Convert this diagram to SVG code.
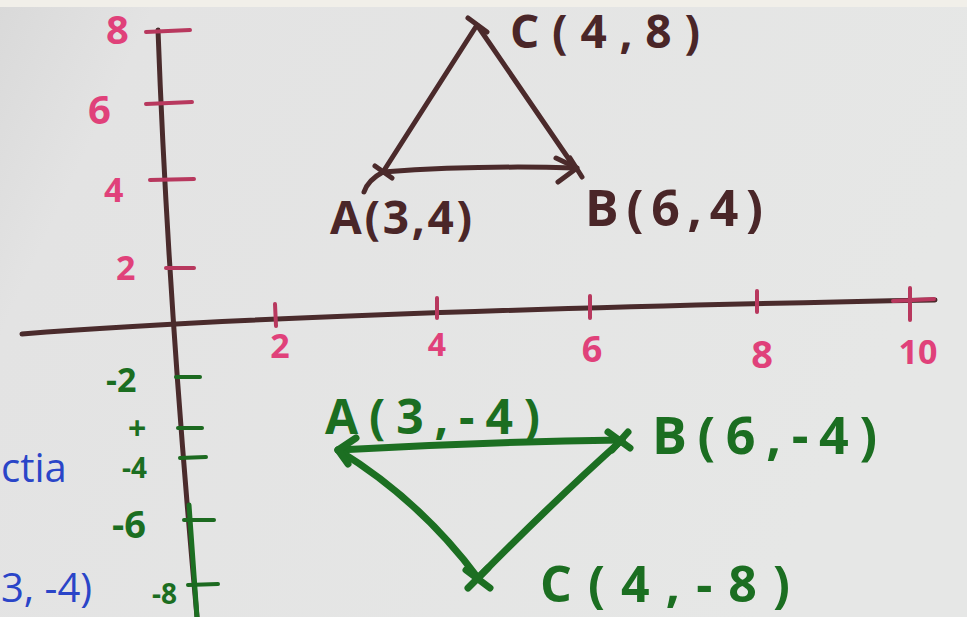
<svg xmlns="http://www.w3.org/2000/svg" width="967" height="617" viewBox="0 0 967 617">
<defs>
<linearGradient id="board" x1="0" y1="0" x2="1" y2="0.3">
<stop offset="0" stop-color="#d9d9d9"/>
<stop offset="0.15" stop-color="#e3e3e3"/>
<stop offset="1" stop-color="#e6e7e6"/>
</linearGradient>
<style>
.ax{fill:none;stroke:#4a2b2c;stroke-width:5;stroke-linecap:round}
.br{fill:none;stroke:#4b2a2b;stroke-width:5;stroke-linecap:round;stroke-linejoin:round}
.gr{fill:none;stroke:#1c6f22;stroke-width:7;stroke-linecap:round;stroke-linejoin:round}
.pk{fill:none;stroke:#b8385e;stroke-width:4;stroke-linecap:round}
.gt{fill:none;stroke:#1c6a20;stroke-width:4;stroke-linecap:round}
text{font-family:"Open Sans","Liberation Sans",sans-serif;font-weight:bold}
.tb{fill:#4a2628}
.tp{fill:#e0417a}
.tg{fill:#1b6e21}
.tu{fill:#2a45c8;font-weight:normal}
</style>
</defs>
<rect width="967" height="617" fill="url(#board)"/>
<rect width="967" height="7" fill="#f1efe9"/>

<g id="axes">
<path class="ax" d="M158,30 Q168,300 197,617"/>
<path class="gr" d="M189,505 L197,617" style="stroke-width:5"/>
<path class="ax" d="M22,334 Q300,312 935,300"/>
</g>

<g id="y-ticks-positive">
<path class="pk" d="M146,32 L190,30"/>
<path class="pk" d="M146,104 L192,102"/>
<path class="pk" d="M150,180 L194,179"/>
<path class="pk" d="M166,268 L194,268"/>
</g>

<g id="x-ticks">
<path class="pk" d="M275,304 L276,326"/>
<path class="pk" d="M437,298 L437,318"/>
<path class="pk" d="M590,296 L590,318"/>
<path class="pk" d="M757,291 L757,312"/>
<path class="pk" d="M910,288 L910,320 M893,301 L934,299"/>
</g>

<g id="y-ticks-negative">
<path class="gt" d="M176,377 L200,377"/>
<path class="gt" d="M178,428 L202,428"/>
<path class="gt" d="M180,458 L206,457"/>
<path class="gt" d="M184,520 L214,520"/>
<path class="gt" d="M188,585 L218,584"/>
</g>

<g id="y-labels-positive">
<text class="tp" x="106" y="44" font-size="40">8</text>
<text class="tp" x="88" y="124" font-size="40">6</text>
<text class="tp" x="104" y="202" font-size="34">4</text>
<text class="tp" x="116" y="280" font-size="34">2</text>
</g>

<g id="x-labels">
<text class="tp" x="280" y="358" font-size="34" text-anchor="middle">2</text>
<text class="tp" x="437" y="356" font-size="32" text-anchor="middle">4</text>
<text class="tp" x="592" y="362" font-size="36" text-anchor="middle">6</text>
<text class="tp" x="762" y="368" font-size="38" text-anchor="middle">8</text>
<text class="tp" x="918" y="364" font-size="34" text-anchor="middle">10</text>
</g>

<g id="y-labels-negative">
<text class="tg" x="106" y="392" font-size="34">-2</text>
<text class="tg" x="128" y="440" font-size="32">+</text>
<text class="tg" x="122" y="478" font-size="28">-4</text>
<text class="tg" x="112" y="538" font-size="38">-6</text>
<text class="tg" x="152" y="604" font-size="28">-8</text>
</g>

<g id="triangle-ABC">
<path class="br" d="M383,172 L477,25 L575,168"/>
<path class="br" d="M383,172 Q480,165 575,168"/>
<path class="br" d="M383,172 Q368,180 364,192"/>
<path class="br" d="M556,158 L577,168 L558,182"/>
<path class="br" d="M375,166 L392,178 M468,18 L487,32 M570,158 L582,177"/>
</g>

<g id="triangle-ABC-reflected">
<path class="gr" d="M338,450 Q480,442 622,440"/>
<path class="gr" d="M338,450 Q420,500 478,578"/>
<path class="gr" d="M478,578 Q555,500 622,440"/>
<path class="gr" d="M356,438 L338,450 L348,464"/>
<path class="gr" d="M608,432 L630,448 M612,450 L628,432 M466,570 L490,588 M468,588 L488,568"/>
</g>

<g id="labels-original">
<text class="tb" x="510" y="48" font-size="46" textLength="190" lengthAdjust="spacing">C(4,8)</text>
<text class="tb" x="330" y="234" font-size="46" textLength="142" lengthAdjust="spacing">A(3,4)</text>
<text class="tb" x="585" y="226" font-size="50" textLength="178" lengthAdjust="spacing">B(6,4)</text>
</g>

<g id="labels-reflected">
<text class="tg" x="325" y="434" font-size="48" textLength="215" lengthAdjust="spacing">A(3,-4)</text>
<text class="tg" x="652" y="454" font-size="52" textLength="225" lengthAdjust="spacing">B(6,-4)</text>
<text class="tg" x="540" y="602" font-size="50" textLength="250" lengthAdjust="spacing">C(4,-8)</text>
</g>

<g id="notes">
<text class="tu" x="1" y="482" font-size="40">ctia</text>
<text class="tu" x="1" y="602" font-size="40">3, -4)</text>
</g>
</svg>
